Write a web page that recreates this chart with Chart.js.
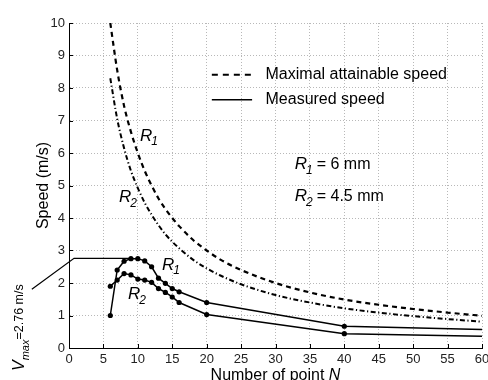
<!DOCTYPE html>
<html><head><meta charset="utf-8">
<script src="https://cdn.jsdelivr.net/npm/chart.js@4.4.1/dist/chart.umd.min.js"></script>
<style>html,body{margin:0;padding:0;background:#fff}canvas{display:block}</style>
</head><body>
<canvas id="c" width="488" height="380"></canvas>
<script>
// ---- data ----
const xTicks = [0,5,10,15,20,25,30,35,40,45,50,55,60];
const yTicks = [0,1,2,3,4,5,6,7,8,9,10];
// maximal attainable speed (dashed curves)
const maxN  = [6,7,8,9,10,11,12,13,14,15,16,18,20,22,25,30,35,40,45,50,55,60];
const maxR1 = [10.0,8.55,7.45,6.65,6.0,5.45,5.0,4.6,4.28,4.0,3.75,3.33,3.0,2.72,2.4,2.0,1.71,1.49,1.33,1.2,1.09,0.99];
const maxR2 = [8.3,7.05,6.15,5.45,4.92,4.47,4.1,3.78,3.5,3.27,3.07,2.72,2.45,2.23,1.96,1.63,1.4,1.22,1.09,0.98,0.89,0.81];
// measured speed (solid curves with markers)
const measN  = [6,7,8,9,10,11,12,13,14,15,16,20,40,60];
const measR1 = [1.0,2.4,2.67,2.75,2.75,2.68,2.5,2.15,1.99,1.83,1.73,1.4,0.67,0.57];
const measR2 = [1.9,2.09,2.29,2.25,2.12,2.09,2.02,1.83,1.71,1.57,1.4,1.03,0.44,0.36];
const vmax = 2.76;

const FONT = "'Liberation Sans', Arial, sans-serif";
const pts = (xs, ys) => xs.map((x, i) => ({x, y: ys[i]}));

function drawR(ctx, x, y, sub, rest) {
  ctx.textAlign = 'left';
  ctx.textBaseline = 'middle';
  ctx.font = 'italic 17px ' + FONT;
  ctx.fillText('R', x, y);
  const w = ctx.measureText('R').width;
  ctx.font = 'italic 12px ' + FONT;
  ctx.fillText(sub, x + w - 1, y + 6);
  const sw = ctx.measureText(sub).width;
  if (rest) {
    ctx.font = '16px ' + FONT;
    ctx.fillText(rest, x + w - 1 + sw + 4, y);
  }
}

const extras = {
  id: 'extras',
  afterDraw(chart) {
    const {ctx, chartArea: ca, scales: {x, y}} = chart;
    ctx.save();
    ctx.fillStyle = '#000';
    ctx.strokeStyle = '#000';
    // inward tick marks
    ctx.lineWidth = 1;
    ctx.beginPath();
    xTicks.forEach(v => { const px = Math.round(x.getPixelForValue(v)) + 0.5; ctx.moveTo(px, ca.bottom); ctx.lineTo(px, ca.bottom - 4); });
    yTicks.forEach(v => { const py = Math.round(y.getPixelForValue(v)) + 0.5; ctx.moveTo(ca.left, py); ctx.lineTo(ca.left + 4, py); });
    ctx.stroke();

    // Vmax annotation line
    ctx.lineWidth = 1.2;
    ctx.beginPath();
    ctx.moveTo(x.getPixelForValue(-5.4), y.getPixelForValue(1.81));
    ctx.lineTo(x.getPixelForValue(0.73), y.getPixelForValue(vmax));
    ctx.lineTo(x.getPixelForValue(9), y.getPixelForValue(vmax));
    ctx.stroke();

    // legend
    ctx.lineWidth = 2;
    const ly1 = y.getPixelForValue(8.41), ly2 = y.getPixelForValue(7.64);
    const lx0 = x.getPixelForValue(20.75), lx1 = x.getPixelForValue(26.6);
    ctx.setLineDash([6, 5]);
    ctx.beginPath(); ctx.moveTo(lx0, ly1); ctx.lineTo(lx1, ly1); ctx.stroke();
    ctx.setLineDash([]);
    ctx.lineWidth = 1.5;
    ctx.beginPath(); ctx.moveTo(lx0, ly2); ctx.lineTo(lx1, ly2); ctx.stroke();
    ctx.font = '16px ' + FONT;
    ctx.textAlign = 'left'; ctx.textBaseline = 'middle';
    const tx = x.getPixelForValue(28.55);
    ctx.fillText('Maximal attainable speed', tx, ly1);
    ctx.fillText('Measured speed', tx, ly2);

    // curve labels
    drawR(ctx, x.getPixelForValue(10.3), y.getPixelForValue(6.53), '1');
    drawR(ctx, x.getPixelForValue(7.26), y.getPixelForValue(4.64), '2');
    drawR(ctx, x.getPixelForValue(13.5), y.getPixelForValue(2.55), '1');
    drawR(ctx, x.getPixelForValue(8.56), y.getPixelForValue(1.64), '2');
    drawR(ctx, x.getPixelForValue(32.8), y.getPixelForValue(5.64), '1', '= 6 mm');
    drawR(ctx, x.getPixelForValue(32.8), y.getPixelForValue(4.66), '2', '= 4.5 mm');

    // axis titles
    ctx.textBaseline = 'alphabetic';
    const xt1 = 'Number of point ';
    ctx.font = 'italic 16px ' + FONT;
    const nW = ctx.measureText('N').width;
    ctx.font = '16px ' + FONT;
    const tW = ctx.measureText(xt1).width + nW;
    const cx = (ca.left + ca.right) / 2;
    ctx.textAlign = 'left';
    ctx.fillText(xt1, cx - tW / 2, 380);
    ctx.font = 'italic 16px ' + FONT;
    ctx.fillText('N', cx - tW / 2 + tW - nW, 380);

    ctx.save();
    ctx.translate(43.5, (ca.top + ca.bottom) / 2);
    ctx.rotate(-Math.PI / 2);
    ctx.textAlign = 'center'; ctx.textBaseline = 'middle';
    ctx.font = '16px ' + FONT;
    ctx.fillText('Speed (m/s)', 0, 0);
    ctx.restore();

    // Vmax text (rotated)
    ctx.save();
    ctx.translate(20, 371);
    ctx.rotate(-Math.PI / 2);
    ctx.textAlign = 'left'; ctx.textBaseline = 'middle';
    ctx.font = 'italic 16px ' + FONT;
    ctx.fillText('V', 0, 0);
    let off = ctx.measureText('V').width;
    ctx.font = 'italic 11px ' + FONT;
    ctx.fillText('max', off, 6);
    off += ctx.measureText('max').width;
    ctx.font = '12.5px ' + FONT;
    ctx.fillText('=2.76 m/s', off, 0);
    ctx.restore();

    ctx.restore();
  }
};

const gridCommon = { color: '#b8b8b8', lineWidth: 1, drawTicks: false };

new Chart(document.getElementById('c'), {
  type: 'line',
  data: {
    datasets: [
      { data: pts(maxN, maxR1), borderColor: '#000', borderWidth: 2.2, borderDash: [5, 4], pointRadius: 0, cubicInterpolationMode: 'monotone' },
      { data: pts(maxN, maxR2), borderColor: '#000', borderWidth: 2, borderDash: [5, 2.5, 1.2, 2.5], pointRadius: 0, cubicInterpolationMode: 'monotone' },
      { data: pts(measN, measR1), borderColor: '#000', borderWidth: 1.5, tension: 0, pointRadius: c => (c.parsed && c.parsed.x >= 60 ? 0 : 2.6), pointBackgroundColor: '#000', pointBorderWidth: 0 },
      { data: pts(measN, measR2), borderColor: '#000', borderWidth: 1.5, tension: 0, pointRadius: c => (c.parsed && c.parsed.x >= 60 ? 0 : 2.6), pointBackgroundColor: '#000', pointBorderWidth: 0 }
    ]
  },
  options: {
    responsive: false,
    animation: false,
    events: [],
    layout: { padding: { left: 0, top: 23, right: 6, bottom: 0 } },
    plugins: { legend: { display: false }, tooltip: { enabled: false } },
    scales: {
      x: {
        type: 'linear', min: 0, max: 60,
        afterBuildTicks: s => { s.ticks = xTicks.map(v => ({ value: v })); },
        afterFit: s => { s.height = 32; s.paddingLeft = 0; s.paddingRight = 0; },
        ticks: { color: '#222', font: { family: FONT, size: 13 }, padding: 4, maxRotation: 0, autoSkip: false },
        grid: gridCommon,
        border: { color: '#000', width: 1, dash: [1, 2] }
      },
      y: {
        type: 'linear', min: 0, max: 10,
        afterBuildTicks: s => { s.ticks = yTicks.map(v => ({ value: v })); },
        afterFit: s => { s.width = 69; s.paddingTop = 0; s.paddingBottom = 0; },
        ticks: { color: '#222', font: { family: FONT, size: 13 }, padding: 4, autoSkip: false },
        grid: gridCommon,
        border: { color: '#000', width: 1, dash: [1, 2] }
      }
    }
  },
  plugins: [extras]
});
</script>
</body></html>
